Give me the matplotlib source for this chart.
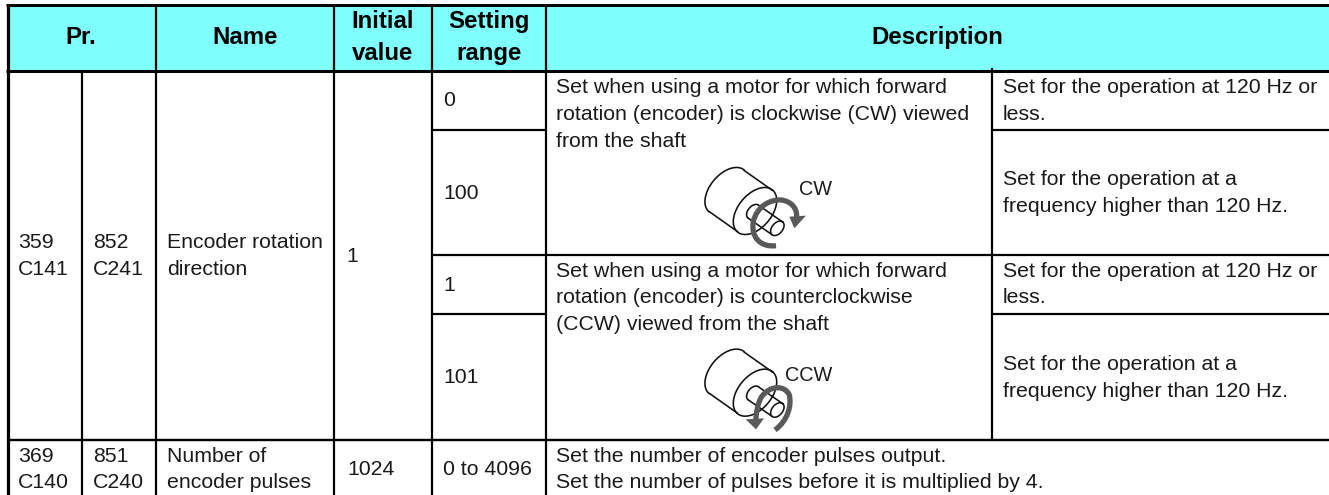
import numpy as np
import matplotlib
matplotlib.use("Agg")
import matplotlib.pyplot as plt
from matplotlib.path import Path
from matplotlib.patches import PathPatch, Polygon, Rectangle

W, H = 1329, 495
plt.rcParams['font.family'] = ['Liberation Sans', 'DejaVu Sans']
fig = plt.figure(figsize=(W / 100, H / 100), dpi=100)
ax = fig.add_axes([0, 0, 1, 1])
ax.set_xlim(0, W)
ax.set_ylim(H, 0)
ax.axis('off')

HEAD_COLOR = '#80FFFF'
LINE = '#000000'
TXT = '#1a1a1a'
GRAY = '#595959'
BODY = 15.35
BOLD = 17.3

# table grid (pixels)
x_cols = [7.5, 82, 155.5, 333.5, 432, 546, 992, W]
y_head = [5, 71]
y_rows = [130, 255, 314, 440]

ax.add_patch(Rectangle((x_cols[0], y_head[0]), W - x_cols[0], y_head[1] - y_head[0],
                       fc=HEAD_COLOR, ec='none', zorder=0))


def hl(y, x0, x1, lw=2.6):
    ax.plot([x0, x1], [y, y], color=LINE, lw=lw * 0.72, solid_capstyle='butt', zorder=3)


def vl(x, y0, y1, lw=2.2):
    ax.plot([x, x], [y0, y1], color=LINE, lw=lw * 0.72, solid_capstyle='butt', zorder=3)


hl(y_head[0], x_cols[0] - 1.5, W, 3)
hl(y_head[1], x_cols[0] - 1.5, W, 3)
vl(x_cols[0], y_head[0] - 1.5, H, 3.2)
vl(x_cols[1], y_head[1], H)
for x in x_cols[2:6]:
    vl(x, y_head[0], H)
vl(x_cols[6], y_head[1] - 3, y_rows[3])
hl(y_rows[0], x_cols[4], x_cols[5], 2.2)
hl(y_rows[0], x_cols[6], W, 2.2)
hl(y_rows[1], x_cols[4], W, 2.2)
hl(y_rows[2], x_cols[4], x_cols[5], 2.2)
hl(y_rows[2], x_cols[6], W, 2.2)
hl(y_rows[3], x_cols[0], W, 2.4)

# header text: (x, baseline, text)
header_center = [(81, 44, 'Pr.'), (245, 44, 'Name'), (383, 28, 'Initial'), (383, 60, 'value'),
                 (489, 28, 'Setting'), (489, 60, 'range'), (937, 44, 'Description')]
for x, y, s in header_center:
    ax.text(x, y, s, ha='center', va='baseline', fontsize=BOLD, fontweight='bold', color='black', zorder=4)

# body text: (x, baseline, text)
body_text = [
    (18, 248.5, '359'), (18, 275, 'C141'), (93, 248.5, '852'), (93, 275, 'C241'),
    (167, 248.5, 'Encoder rotation'), (167, 275, 'direction'), (346, 262, '1'),
    (443, 106, '0'), (443, 199, '100'), (443, 291, '1'), (443, 383, '101'),
    (556, 93, 'Set when using a motor for which forward'),
    (556, 120, 'rotation (encoder) is clockwise (CW) viewed'),
    (556, 147, 'from the shaft'),
    (556, 276.7, 'Set when using a motor for which forward'),
    (556, 303.3, 'rotation (encoder) is counterclockwise'),
    (556, 330, '(CCW) viewed from the shaft'),
    (1003, 93, 'Set for the operation at 120 Hz or'), (1003, 120, 'less.'),
    (1003, 185, 'Set for the operation at a'), (1003, 211.7, 'frequency higher than 120 Hz.'),
    (1003, 276.7, 'Set for the operation at 120 Hz or'), (1003, 303.3, 'less.'),
    (1003, 370, 'Set for the operation at a'), (1003, 396.7, 'frequency higher than 120 Hz.'),
    (18, 462, '369'), (18, 488, 'C140'), (93, 462, '851'), (93, 488, 'C240'),
    (167, 462, 'Number of'), (167, 488, 'encoder pulses'), (347, 475, '1024'), (443, 475, '0 to 4096'),
    (556, 462, 'Set the number of encoder pulses output.'),
    (556, 488, 'Set the number of pulses before it is multiplied by 4.'),
]
for x, y, s in body_text:
    ax.text(x, y, s, ha='left', va='baseline', fontsize=BODY, color=TXT, zorder=4)

# direction labels beside the motors
motor_labels = [(799, 195, 'CW'), (785, 381, 'CCW')]
for x, y, s in motor_labels:
    ax.text(x, y, s, ha='left', va='baseline', fontsize=14.3, color=TXT, zorder=4)


# motor illustration, in 3x crop units
def ell(cx, cy, a, b, t0, t1, n=60, ang=np.radians(50)):
    t = np.radians(np.linspace(t0, t1, n))
    ux, uy = np.cos(ang), -np.sin(ang)
    vx, vy = np.sin(ang), np.cos(ang)
    return np.c_[cx + a * np.cos(t) * ux + b * np.sin(t) * vx,
                 cy + a * np.cos(t) * uy + b * np.sin(t) * vy]


def motor(y0, x0=540):
    def T(p):
        p = np.asarray(p, float)
        return np.c_[x0 + p[:, 0] / 3, y0 + p[:, 1] / 3]

    kw = dict(color='#111111', lw=1.15, zorder=5, solid_capstyle='round')
    front, back = (645, 158), (560, 98)
    parts = [ell(*front, 82, 50, 0, 360),
             ell(*back, 82, 50, 0, -180),
             np.array([[front[0] + 52, front[1] - 62], [back[0] + 52, back[1] - 62]]),
             np.array([[front[0] - 52, front[1] + 62], [back[0] - 52, back[1] + 62]])]
    end, rear = (712, 210), (640, 160)
    parts += [ell(*end, 25, 16, 0, 360), ell(*rear, 25, 16, 0, -180),
              np.array([[end[0] + 16, end[1] - 19], [rear[0] + 16, rear[1] - 19]]),
              np.array([[end[0] - 16, end[1] + 19], [rear[0] - 16, rear[1] + 19]])]
    for p in parts:
        q = T(p)
        ax.plot(q[:, 0], q[:, 1], **kw)
    return T


def arrow(T, pts, head):
    v = T(pts)
    codes = [Path.MOVETO] + [Path.CURVE4] * (len(v) - 1)
    ax.add_patch(PathPatch(Path(v, codes), fc='none', ec=GRAY, lw=3.8, zorder=6, capstyle='butt'))
    ax.add_patch(Polygon(T(head), closed=True, fc=GRAY, ec='none', zorder=6))


T1 = motor(170 - 35 / 3)
arrow(T1, [(708, 262), (660, 268), (632, 235), (640, 190),
           (650, 145), (690, 122), (725, 125),
           (755, 130), (772, 150), (770, 178)],
      [(748, 175), (798, 172), (763, 210)])
T2 = motor(340)
arrow(T2, [(705, 270), (745, 240), (755, 195), (748, 165),
           (735, 135), (690, 135), (665, 170),
           (655, 185), (648, 215), (648, 240)],
      [(617, 238), (672, 235), (648, 268)])

fig.savefig('out.png', dpi=100)
